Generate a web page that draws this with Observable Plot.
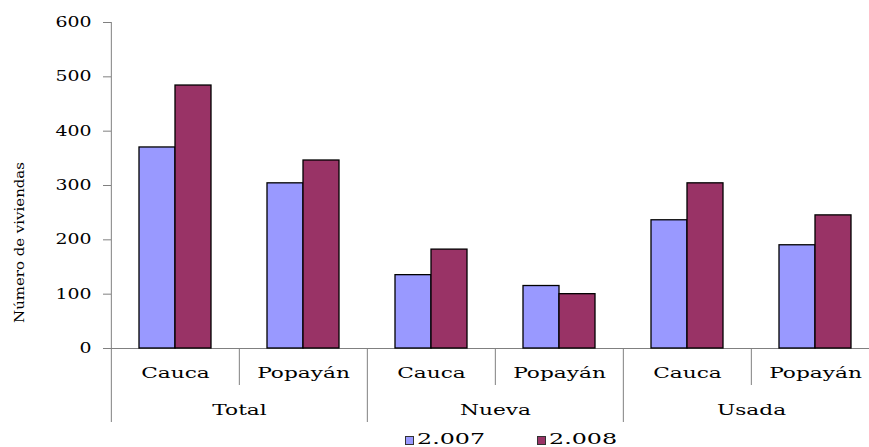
<!DOCTYPE html>
<html><head><meta charset="utf-8">
<script src="https://cdn.jsdelivr.net/npm/d3@7"></script>
<script src="https://cdn.jsdelivr.net/npm/@observablehq/plot@0.6"></script>
<style>
html,body{margin:0;padding:0;background:#fff;}
#chart svg{display:block;}
#legend{position:relative;height:21px;width:869px;font-family:"DejaVu Serif";font-size:14px;color:#000;}
.sw{position:absolute;top:10px;width:7px;height:7px;border:1px solid #333;}
.lt{position:absolute;top:3px;line-height:20px;transform:scaleX(1.7);transform-origin:0 50%;white-space:nowrap;}
</style></head><body>
<div id="chart"></div>
<div id="legend"></div>
<script>
// ---- data ----
const groups = ["Total", "Nueva", "Usada"];
const places = ["Cauca", "Popayán"];
const years = ["2.007", "2.008"];
const values2007 = [370, 304, 135, 115, 236, 190];
const values2008 = [484, 346, 182, 100, 304, 245];
const yTicks = [0, 100, 200, 300, 400, 500, 600];
const yLabel = "Número de viviendas";
const colors = ["#9999FF", "#993366"];

// ---- layout ----
const W = 869, H = 426, plotLeft = 110, plotRight = 880, plotTop = 22, plotBottom = 348;
const innerSepBottom = 385, groupSepBottom = 422, catLabelY = 377, groupLabelY = 414;
const yLabelX = 18.5, yLabelY = 242;
const lineColor = "#808080";

const cats = groups.flatMap(g => places.map(p => ({group: g, place: p, key: g + "|" + p})));
const bars = cats.flatMap((c, i) => [
  {...c, year: years[0], value: values2007[i]},
  {...c, year: years[1], value: values2008[i]}
]);
const firstOfGroup = cats.filter((c, i) => i % places.length === 0);
const innerCats = cats.filter((c, i) => i % places.length !== 0);
const facetW = (plotRight - plotLeft) / cats.length;

const plot = Plot.plot({
  width: W, height: H,
  marginLeft: plotLeft, marginRight: W - plotRight, marginTop: plotTop, marginBottom: H - plotBottom,
  style: {fontFamily: "DejaVu Serif", fontSize: "14px", color: "#000", background: "#fff", overflow: "visible"},
  fx: {domain: cats.map(c => c.key), padding: 0, axis: null, label: null},
  x: {domain: years, paddingInner: 0, paddingOuter: 0.736, axis: null, label: null},
  y: {domain: [0, 600], ticks: yTicks, tickSize: 8, tickPadding: 12, label: null, tickFormat: d => String(d)},
  color: {domain: years, range: colors},
  marks: [
    Plot.ruleY([0], {stroke: lineColor}),
    Plot.ruleX(cats.slice(0, 1), {fx: "key", x: null, stroke: lineColor, dx: -facetW / 2,
      insetBottom: -(groupSepBottom - plotBottom)}),
    Plot.ruleX(firstOfGroup.slice(1), {fx: "key", x: null, stroke: lineColor, dx: -facetW / 2,
      insetTop: plotBottom - plotTop, insetBottom: -(groupSepBottom - plotBottom)}),
    Plot.ruleX(innerCats, {fx: "key", x: null, stroke: lineColor, dx: -facetW / 2,
      insetTop: plotBottom - plotTop, insetBottom: -(innerSepBottom - plotBottom)}),
    Plot.barY(bars, {fx: "key", x: "year", y: "value", fill: "year", stroke: "#000", strokeWidth: 1.3}),
    Plot.text(cats, {fx: "key", text: "place", frameAnchor: "bottom", dy: catLabelY - plotBottom, fill: "#000"}),
    Plot.text(firstOfGroup, {fx: "key", text: "group", frameAnchor: "bottom-right", textAnchor: "middle",
      dy: groupLabelY - plotBottom, fill: "#000"}),
    Plot.text(cats.slice(0, 1), {fx: "key", text: () => yLabel, frameAnchor: "left", textAnchor: "middle",
      rotate: -90, dx: yLabelX - plotLeft, dy: yLabelY - (plotTop + plotBottom) / 2, fontSize: 13, fill: "#000"})
  ]
});
document.getElementById("chart").appendChild(plot);

// stretch text horizontally like the wide original typeface
const svg = plot.tagName.toLowerCase() === "svg" ? plot : plot.querySelector("svg");
d3.select(svg).selectAll("text").each(function () {
  const t = this;
  const txt = t.textContent;
  let s;
  if (txt === yLabel) s = 1.15;
  else if (t.closest('[aria-label^="y-axis"]')) s = 1.35;
  else s = 1.55;
  const x = +(t.getAttribute("x") || 0);
  const tr = t.getAttribute("transform") || "";
  t.setAttribute("transform", `${tr} translate(${x},0) scale(${s},1) translate(${-x},0)`);
});
d3.select(svg).selectAll('[aria-label^="y-axis"] line, [aria-label^="y-axis"] path').attr("stroke", lineColor);

// legend
const legend = document.getElementById("legend");
const legendX = [405, 537];
years.forEach((y, i) => {
  const sw = document.createElement("div");
  sw.className = "sw";
  sw.style.left = legendX[i] + "px";
  sw.style.background = colors[i];
  legend.appendChild(sw);
  const lt = document.createElement("div");
  lt.className = "lt";
  lt.style.left = (legendX[i] + 12) + "px";
  lt.textContent = y;
  legend.appendChild(lt);
});
</script>
</body></html>
